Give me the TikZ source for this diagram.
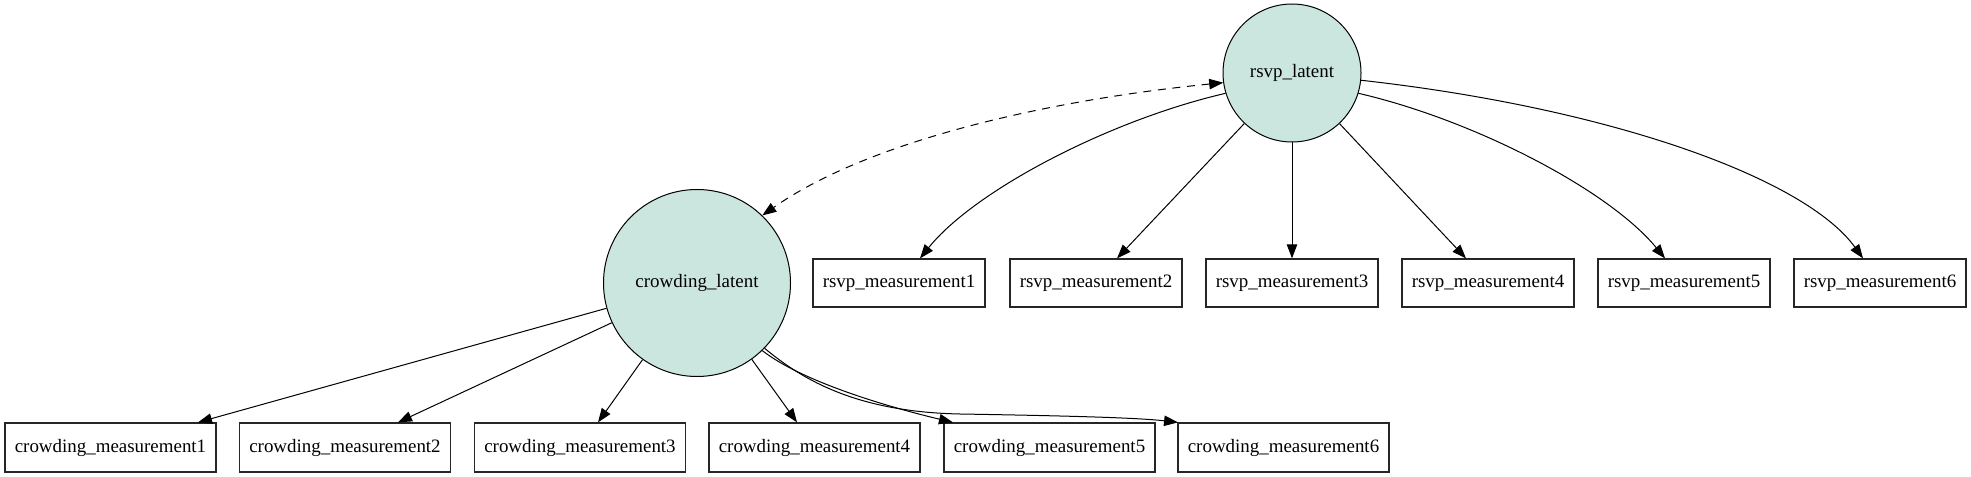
\documentclass[tikz,border=0pt]{standalone}
\usepackage{fontspec}
\setmainfont{Liberation Serif}
\usetikzlibrary{arrows.meta}
\definecolor{latentfill}{RGB}{203,230,223}
\begin{document}
\begin{tikzpicture}[x=0.75pt,y=-0.75pt,
  lbl/.style={font=\fontsize{14.2}{16}\selectfont},
  latent/.style={lbl,circle,draw=black,line width=0.75pt,fill=latentfill,inner sep=0pt},
  rsvpbox/.style={lbl,rectangle,draw=black!85,line width=0.9pt,minimum width=129pt,minimum height=36pt,inner sep=0pt},
  crowdbox/.style={lbl,rectangle,draw=black!85,line width=0.9pt,minimum width=158.25pt,minimum height=36.75pt,inner sep=0pt},
  tip/.tip={Triangle[length=10.5pt,width=7.8pt]},
  load/.style={line width=0.75pt,-tip},
  covar/.style={line width=0.75pt,dash pattern=on 6pt off 5pt,tip-tip}
]
\useasboundingbox (0,0) rectangle (1971,477);

% latent variables
\node[latent,minimum size=103.5pt] (rl) at (1292,73) {rsvp\_latent};
\node[latent,minimum size=140.25pt] (cl) at (697,283) {crowding\_latent};

% rsvp measurements
\node[rsvpbox] (r1) at (899,283) {rsvp\_measurement1};
\node[rsvpbox] (r2) at (1096,283) {rsvp\_measurement2};
\node[rsvpbox] (r3) at (1292,283) {rsvp\_measurement3};
\node[rsvpbox] (r4) at (1488,283) {rsvp\_measurement4};
\node[rsvpbox] (r5) at (1684,283) {rsvp\_measurement5};
\node[rsvpbox] (r6) at (1880,283) {rsvp\_measurement6};

% crowding measurements
\node[crowdbox] (c1) at (110.5,447.5) {crowding\_measurement1};
\node[crowdbox] (c2) at (345,447.5) {crowding\_measurement2};
\node[crowdbox] (c3) at (580,447.5) {crowding\_measurement3};
\node[crowdbox] (c4) at (814.5,447.5) {crowding\_measurement4};
\node[crowdbox] (c5) at (1049.5,447.5) {crowding\_measurement5};
\node[crowdbox] (c6) at (1283.5,447.5) {crowding\_measurement6};

% covariance
\draw[covar] (rl.188) .. controls (1050,100) and (870,140) .. (cl.46);

% rsvp loadings
\draw[load] (rl.197) .. controls (1110,120) and (975,190) .. ([xshift=15.75pt]r1.north);
\draw[load] (rl) -- ([xshift=15.75pt]r2.north);
\draw[load] (rl) -- (r3);
\draw[load] (rl) -- ([xshift=-16.5pt]r4.north);
\draw[load] (rl.-17) .. controls (1474,120) and (1609,190) .. ([xshift=-14.25pt]r5.north);
\draw[load] (rl.-6) .. controls (1610,108) and (1805,178) .. ([xshift=-12.75pt]r6.north);

% crowding loadings
\draw[load] (cl) -- ([xshift=65.6pt]c1.north);
\draw[load] (cl) -- ([xshift=39.75pt]c2.north);
\draw[load] (cl) -- ([xshift=13.5pt]c3.north);
\draw[load] (cl) -- ([xshift=-13.1pt]c4.north);
\draw[load] (cl.-46) .. controls (800,380) and (880,405) .. ([xshift=-72.4pt]c5.north);
\draw[load] (cl.-44) .. controls (805,382) and (860,412) .. (960,414)
  .. controls (1080,416) and (1140,418) .. ([xshift=-79.1pt]c6.north);
\end{tikzpicture}
\end{document}
